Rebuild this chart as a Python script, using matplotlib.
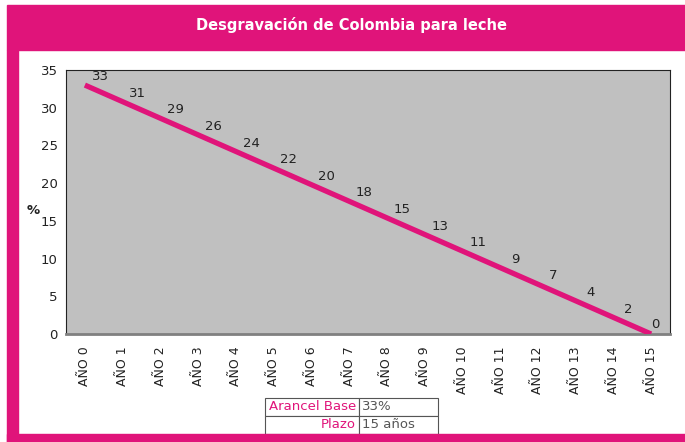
import matplotlib.pyplot as plt
from matplotlib.patches import Rectangle

# datos
anios = ["AÑO %d" % i for i in range(16)]
arancel = [33, 30.8, 28.6, 26.4, 24.2, 22, 19.8, 17.6, 15.4, 13.2, 11, 8.8, 6.6, 4.4, 2.2, 0]
tabla_etiquetas = ["Arancel Base", "Plazo"]
tabla_valores = ["33%", "15 años"]

rosa = "#E0147A"
W, H = 685, 442

fig = plt.figure(figsize=(W / 100, H / 100), dpi=100)
fig.patch.set_facecolor("white")

# marco rosa
fig.patches.append(Rectangle((7 / W, 1 - 50 / H), 1 - 7 / W, 45 / H,
                             transform=fig.transFigure, color=rosa, zorder=0))
fig.patches.append(Rectangle((7 / W, 0), 11 / W, 1 - 50 / H,
                             transform=fig.transFigure, color=rosa, zorder=0))
fig.patches.append(Rectangle((7 / W, 0), 1 - 7 / W, 8 / H,
                             transform=fig.transFigure, color=rosa, zorder=0))

fig.text(352 / W, 1 - 25 / H, "Desgravación de Colombia para leche",
         color="white", fontsize=10.5, fontweight="heavy", ha="center", va="center")

# gráfica
ax = fig.add_axes([66 / W, 1 - 334 / H, 604 / W, 264 / H])
ax.set_facecolor("#C0C0C0")
x = [i + 0.5 for i in range(len(anios))]
ax.plot(x, arancel, color=rosa, lw=3.8, solid_capstyle="butt", zorder=3)

for i, (xi, v) in enumerate(zip(x, arancel)):
    off = (11, 6) if i < len(anios) - 1 else (3, 7)
    ax.annotate("%.0f" % v, (xi, v), xytext=off, textcoords="offset points",
                ha="center", va="center", fontsize=9.5, color="#222222")

ax.set_xlim(0, 16)
ax.set_ylim(0, 35)
ax.set_yticks(range(0, 36, 5))
ax.set_xticks(x)
ax.set_xticklabels(anios, rotation=90, fontsize=9)
ax.tick_params(axis="both", length=0, labelsize=9.5, colors="#222222")
ax.tick_params(axis="x", pad=9, labelsize=9)
ax.tick_params(axis="y", pad=6)
for s in ["left", "top", "right"]:
    ax.spines[s].set_color("#222222")
    ax.spines[s].set_linewidth(0.8)
ax.spines["bottom"].set_color("#808080")
ax.spines["bottom"].set_linewidth(2)

fig.text(33 / W, 1 - 210 / H, "%", fontsize=9.5, fontweight="bold",
         ha="center", va="center", color="#222222")

# tabla
axt = fig.add_axes([265 / W, 1 - 434 / H, 173 / W, 36 / H])
axt.axis("off")
celdas = [[e, v] for e, v in zip(tabla_etiquetas, tabla_valores)]
tb = axt.table(cellText=celdas, bbox=[0, 0, 1, 1], colWidths=[0.543, 0.457])
tb.auto_set_font_size(False)
for (r, c), cell in tb.get_celld().items():
    cell.set_edgecolor("#555555")
    cell.set_linewidth(0.8)
    cell.set_facecolor("white")
    t = cell.get_text()
    t.set_fontsize(9.5)
    if c == 0:
        t.set_color(rosa)
        t.set_ha("right")
        cell.PAD = 0.03
    else:
        t.set_color("#555555")
        t.set_ha("left")
        cell.PAD = 0.04

fig.savefig("out.png", dpi=100)
